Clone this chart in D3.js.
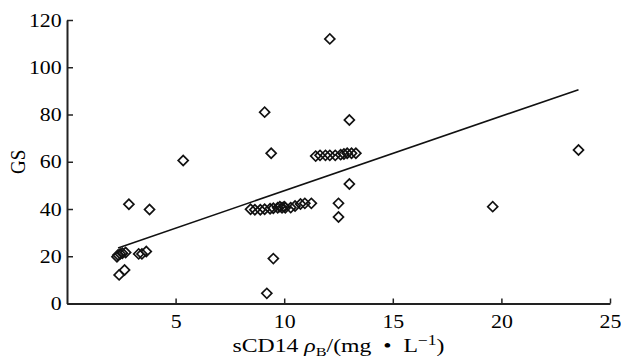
<!DOCTYPE html>
<html>
<head>
<meta charset="utf-8">
<script src="https://cdn.jsdelivr.net/npm/d3@7"></script>
<style>
body { margin: 0; background: #fff; }
text { font-family: "Liberation Serif", "Times New Roman", serif; fill: #000; }
</style>
</head>
<body>
<script>
var width = 621, height = 360;

// data: sCD14 (mg/L) and GS
var sCD14 = [12.1, 9.1, 13.0, 9.4, 5.35, 2.85, 3.8, 13.0, 12.5, 12.5, 19.6, 23.55, 9.5, 9.2,
  2.3, 2.35, 2.45, 2.55, 2.7, 3.3, 3.45, 3.65, 2.4, 2.65,
  8.45, 8.65, 8.9, 9.1, 9.35, 9.5, 9.7, 9.8, 9.9, 10.0, 10.05, 10.3, 10.5, 10.75, 10.95, 11.25,
  11.45, 11.65, 11.9, 12.1, 12.35, 12.6, 12.75, 12.9, 13.1, 13.3];
var gs = [112, 81, 77.7, 63.6, 60.5, 42, 39.8, 50.6, 42.4, 36.6, 41, 65, 19, 4.3,
  19.8, 20.5, 21, 21.3, 21.6, 21, 21, 22, 12.1, 14.2,
  39.9, 39.7, 39.7, 39.9, 40.1, 40.3, 40.5, 41, 40.5, 41, 40.5, 40.6, 41.3, 42.1, 42.4, 42.4,
  62.4, 62.7, 62.7, 62.7, 62.7, 63, 63.3, 63.6, 63.6, 63.6];

// fitted line
var fitSlope = 3.16, fitIntercept = 16.1;
var fitRange = [2.35, 23.55];

var xTicks = [5, 10, 15, 20, 25];
var yTicks = [0, 20, 40, 60, 80, 100, 120];

var margin = {left: 67, right: 11, top: 20, bottom: 56.5};
var stretch = 1.15; // the text in the picture is a bit wider than plain Times

var svg = d3.select('body').append('svg').attr('width', width).attr('height', height);

var x = d3.scaleLinear().domain([0, 25]).range([margin.left, width - margin.right]);
var y = d3.scaleLinear().domain([0, 120]).range([height - margin.bottom, margin.top]);

// axes, ticks pointing inward
var xAxis = svg.append('g')
  .attr('transform', 'translate(0,' + y(0) + ')')
  .call(d3.axisBottom(x).tickValues(xTicks).tickSizeInner(-5).tickSizeOuter(0).tickPadding(11));
var yAxis = svg.append('g')
  .attr('transform', 'translate(' + x(0) + ',0)')
  .call(d3.axisLeft(y).tickValues(yTicks).tickSizeInner(-6).tickSizeOuter(0).tickPadding(4.6));

[xAxis, yAxis].forEach(function(a) {
  a.select('.domain').attr('stroke', '#222').attr('stroke-width', 2);
  a.selectAll('.tick line').attr('stroke', '#222').attr('stroke-width', 1.5);
  a.selectAll('.tick text')
    .style('font-family', '"Liberation Serif", serif')
    .attr('font-size', 19).attr('fill', '#111')
    .attr('transform', 'scale(' + stretch + ',1)');
});

// axis titles
var xt = svg.append('text')
  .attr('transform', 'translate(' + (x(0) + x(25)) / 2 + ',352) scale(1.25,1)')
  .attr('text-anchor', 'middle').attr('font-size', 19).attr('fill', '#111');
xt.append('tspan').text('sCD14 ');
xt.append('tspan').attr('font-style', 'italic').text('ρ');
xt.append('tspan').attr('font-size', 13).attr('dy', 4).text('B');
xt.append('tspan').attr('dy', -4).text('/(mg\u2002•\u2002L');
xt.append('tspan').attr('font-size', 14).attr('dy', -7).text('−1');
xt.append('tspan').attr('dy', 7).text(')');

svg.append('text')
  .attr('transform', 'translate(25,' + (y(0) + y(120)) / 2 + ') rotate(-90) scale(1,' + stretch + ')')
  .attr('text-anchor', 'middle').attr('font-size', 19).attr('fill', '#111').text('GS');

// trend line
svg.append('line')
  .attr('x1', x(fitRange[0])).attr('y1', y(fitIntercept + fitSlope * fitRange[0]))
  .attr('x2', x(fitRange[1])).attr('y2', y(fitIntercept + fitSlope * fitRange[1]))
  .attr('stroke', '#111').attr('stroke-width', 1.6);

// diamond markers
var diamond = d3.symbol().type(d3.symbolSquare).size(50);
svg.append('g').selectAll('path')
  .data(sCD14)
  .join('path')
  .attr('d', diamond)
  .attr('transform', function(d, i) {
    return 'translate(' + x(d) + ',' + y(gs[i]) + ') rotate(45)';
  })
  .attr('fill', 'none')
  .attr('stroke', '#111')
  .attr('stroke-width', 1.7);
</script>
</body>
</html>
